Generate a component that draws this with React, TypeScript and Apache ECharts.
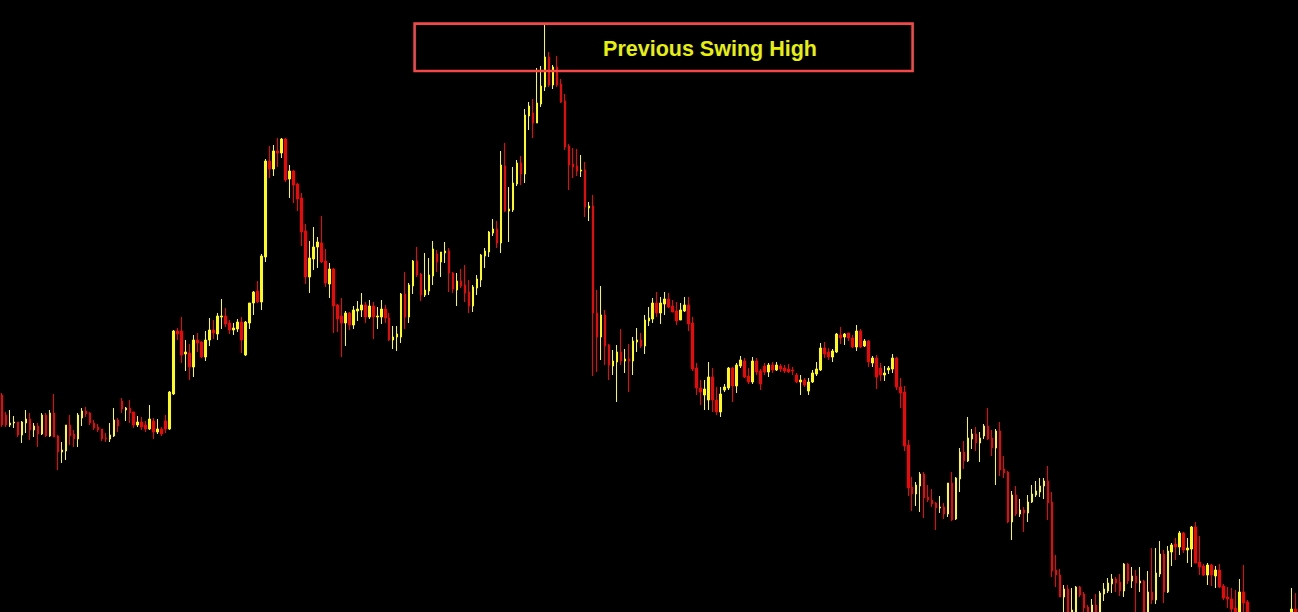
import React, { useEffect, useRef } from "react";
import * as echarts from "echarts";

// Values are measured as depth below the chart top (the y axis is inverted),
// so a bullish (yellow) candle has close < open.
const OPEN = [
  395,415,425,423,422,435,423,419,430,426,
  434,415,436,413,436,452,451,425,434,439,
  418,411,413,423,427,429,438,439,436,420,
  401,410,408,412,425,422,425,429,421,432,
  429,421,429,394,331,331,354,353,367,340,
  342,357,340,330,334,317,316,323,330,329,
  322,355,323,303,291,302,257,161,169,151,
  153,139,179,171,184,198,231,277,259,247,
  243,261,284,269,305,316,323,313,325,311,
  310,305,317,306,317,317,309,318,340,337,
  337,294,317,286,261,274,295,291,276,254,
  262,253,251,273,290,281,285,292,306,288,
  280,256,252,233,229,243,166,211,210,184,
  163,174,116,113,123,104,87,57,85,67,
  84,101,146,164,166,171,170,208,206,313,
  337,315,345,366,362,352,361,359,361,342,
  340,346,321,319,303,313,304,299,306,311,
  320,311,305,323,368,388,395,400,377,400,
  412,390,388,368,386,366,361,376,382,361,
  371,366,372,365,370,366,368,369,370,375,
  382,380,391,382,374,370,348,352,357,352,
  335,337,333,338,347,331,346,341,363,358,
  368,375,370,369,358,387,392,445,487,494,
  486,474,497,500,503,508,507,514,483,519,
  479,452,461,439,434,443,436,426,438,448,
  431,469,472,522,495,514,510,513,502,495,
  492,486,481,502,570,575,597,589,612,616,
  587,594,607,618,605,616,594,591,584,579,
  582,591,564,581,576,583,581,620,592,600,
  574,554,592,552,544,547,533,550,549,527,
  562,566,575,565,576,570,586,597,599,608,
  618,592,602,625,640,630,648,660,645,635,
  648,632,625,630,609
];

const CLOSE = [
  425,425,423,422,435,422,419,430,426,434,
  415,436,413,437,452,450,425,436,439,415,
  411,414,423,428,430,439,439,435,420,426,
  409,408,413,425,422,427,429,419,432,429,
  434,429,392,331,334,355,352,367,340,343,
  357,340,330,333,316,316,324,330,328,322,
  340,322,303,292,302,256,161,169,151,153,
  139,180,171,185,199,232,277,258,247,242,
  262,283,269,306,319,323,313,325,310,309,
  305,317,306,317,316,309,318,340,337,334,
  294,317,285,261,275,295,290,275,249,262,
  252,251,273,289,281,286,293,306,287,279,
  255,251,232,229,243,165,211,209,183,163,
  174,115,106,123,103,86,57,85,67,85,
  102,147,165,167,171,170,207,206,313,337,
  315,346,365,361,352,361,359,361,341,340,
  346,320,318,303,313,303,299,307,312,321,
  310,305,324,369,388,392,389,377,400,412,
  394,387,368,386,365,360,377,382,361,372,
  384,372,365,370,365,369,371,372,371,382,
  380,385,382,373,369,348,354,357,351,334,
  338,334,338,347,331,347,341,362,358,377,
  375,373,368,358,387,393,446,488,494,485,
  474,498,500,504,508,507,514,483,520,478,
  452,461,438,434,443,438,426,439,448,431,
  470,473,522,495,514,510,513,502,494,491,
  486,481,503,571,575,597,589,618,610,587,
  595,608,618,605,616,593,589,583,579,583,
  591,564,581,576,583,581,620,592,600,573,
  554,592,551,545,547,533,550,548,527,563,
  567,575,565,575,570,587,598,599,609,618,
  592,603,625,640,630,650,660,645,635,648,
  630,625,635,609,620
];

const WICK_TOP = [
  393,412,410,416,422,421,410,413,423,423,
  413,413,410,394,435,442,425,415,430,413,
  408,407,412,420,424,429,433,423,408,418,
  398,407,400,412,416,417,421,405,418,419,
  427,415,391,330,328,317,340,344,335,333,
  341,331,318,320,313,299,308,320,323,319,
  317,321,303,291,281,254,159,146,145,138,
  138,138,165,170,183,193,224,241,227,237,
  216,249,263,268,304,298,311,312,306,301,
  293,302,300,302,307,300,305,313,326,326,
  293,272,283,260,247,273,253,258,241,250,
  252,242,248,272,273,269,265,280,285,275,
  254,248,231,219,221,151,143,187,167,160,
  156,109,102,99,68,66,25,52,65,56,
  79,94,144,148,149,155,162,202,195,290,
  286,310,344,350,345,329,349,344,337,328,
  333,315,307,298,292,297,292,293,300,302,
  303,297,297,317,363,380,380,362,368,387,
  387,384,367,367,363,356,358,368,357,358,
  369,363,363,362,362,364,365,364,367,373,
  375,378,378,370,362,343,342,348,349,333,
  327,333,333,335,325,329,339,340,356,355,
  363,366,366,354,357,378,386,440,477,482,
  472,472,485,489,502,496,503,483,472,477,
  448,441,417,429,427,432,424,408,430,429,
  422,456,471,491,486,499,507,495,485,481,
  478,478,466,492,555,569,585,585,588,586,
  586,592,605,599,594,591,583,578,574,577,
  574,563,563,567,570,567,580,571,548,548,
  541,550,546,543,538,531,532,538,526,522,
  536,564,563,564,566,564,584,587,588,590,
  579,565,600,618,620,622,640,632,625,628,
  620,615,618,588,593
];

const WICK_BOTTOM = [
  427,427,427,428,437,443,433,440,437,447,
  435,437,437,437,470,463,460,445,447,447,
  426,417,425,430,432,441,442,442,437,432,
  413,421,423,428,427,430,432,430,439,434,
  436,433,430,395,340,363,371,380,377,352,
  358,361,346,339,340,329,327,334,335,332,
  353,356,329,315,303,310,262,178,176,167,
  158,182,198,203,211,246,284,293,270,268,
  263,287,298,333,332,357,346,330,329,321,
  317,323,319,339,329,324,323,341,349,351,
  343,329,323,294,277,301,297,295,285,272,
  277,263,292,293,306,288,302,313,312,295,
  287,268,257,236,248,253,212,242,212,186,
  185,183,130,138,123,107,91,87,89,87,
  103,150,190,178,176,177,217,221,376,372,
  360,365,380,375,402,365,373,392,375,352,
  348,354,326,323,317,324,315,308,312,325,
  320,312,331,371,395,405,410,410,412,415,
  417,392,390,402,393,368,378,384,384,375,
  390,375,377,373,371,372,373,373,375,383,
  395,387,395,383,376,371,358,360,362,353,
  344,345,341,348,351,348,347,367,367,389,
  381,381,374,373,390,408,451,496,511,506,
  512,518,502,507,530,513,519,517,521,520,
  492,469,462,449,451,462,439,440,456,485,
  476,478,523,540,516,517,532,522,503,497,
  497,499,520,577,587,597,614,625,620,620,
  597,615,625,622,620,620,601,593,593,592,
  596,597,584,588,615,592,625,624,604,604,
  577,603,593,566,560,555,553,563,567,563,
  575,576,585,586,588,588,600,608,615,624,
  622,616,632,645,648,655,668,665,650,652,
  655,640,640,634,625
];

const CATEGORIES = OPEN.map((_, i) => `C${i + 1}`);

const ANNOTATION_TEXT = "Previous Swing High";

const RED = "#ff0000";
const YELLOW = "#ffff00";

export default function App() {
  const ref = useRef<HTMLDivElement>(null);

  useEffect(() => {
    document.body.style.margin = "0";
    document.body.style.background = "#000";
    if (!ref.current) return;
    const chart = echarts.init(ref.current, null, { renderer: "svg" });
    const data = OPEN.map((o, i) => [o, CLOSE[i], WICK_TOP[i], WICK_BOTTOM[i]]);
    chart.setOption({
      animation: false,
      backgroundColor: "#000000",
      grid: { left: -2.5, right: 0.5, top: 0, bottom: 0, containLabel: false },
      xAxis: {
        type: "category",
        data: CATEGORIES,
        boundaryGap: true,
        show: false,
      },
      yAxis: {
        type: "value",
        inverse: true,
        min: 0,
        max: 612,
        show: false,
        splitLine: { show: false },
      },
      series: [
        {
          type: "candlestick",
          data,
          barWidth: 2,
          clip: true,
          silent: true,
          itemStyle: {
            color: RED,
            color0: YELLOW,
            borderColor: RED,
            borderColor0: YELLOW,
            borderWidth: 1,
          },
        },
      ],
      graphic: [
        {
          type: "rect",
          z: 100,
          silent: true,
          shape: { x: 414.6, y: 23.6, width: 498, height: 47.4 },
          style: { fill: "none", stroke: "#f24848", lineWidth: 2.6 },
        },
        {
          type: "text",
          z: 101,
          silent: true,
          x: 710,
          y: 49,
          style: {
            text: ANNOTATION_TEXT,
            font: 'bold 21.5px "Liberation Sans", Arial, sans-serif',
            fill: "#e8f200",
            align: "center",
            verticalAlign: "middle",
            textAlign: "center",
            textVerticalAlign: "middle",
          },
        },
      ],
    });
    return () => chart.dispose();
  }, []);

  return (
    <div
      ref={ref}
      style={{
        position: "fixed",
        left: 0,
        top: 0,
        width: 1298,
        height: 612,
        background: "#000",
      }}
    />
  );
}
